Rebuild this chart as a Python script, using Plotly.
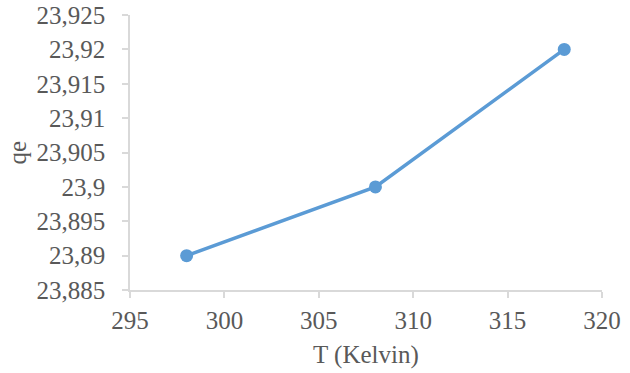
import plotly.graph_objects as go

temperature_k = [298, 308, 318]
qe_values = [23.89, 23.90, 23.92]

x_ticks = [295, 300, 305, 310, 315, 320]
y_ticks = [23.885, 23.89, 23.895, 23.90, 23.905, 23.91, 23.915, 23.92, 23.925]
y_tick_labels = ["23,885", "23,89", "23,895", "23,9", "23,905", "23,91", "23,915", "23,92", "23,925"]

font_family = "Liberation Serif, Times New Roman, serif"
blue = "#5B9BD5"
axis_col = "#D9D9D9"
text_col = "#595959"

fig = go.Figure()
fig.add_trace(go.Scatter(
    x=temperature_k, y=qe_values, mode="lines+markers",
    line=dict(color=blue, width=3.5),
    marker=dict(color=blue, size=13),
    showlegend=False,
))

fig.update_layout(
    width=630, height=373,
    margin=dict(l=130, r=28, t=15, b=83, autoexpand=False),
    paper_bgcolor="white", plot_bgcolor="white",
    font=dict(family=font_family, color=text_col, size=25),
    xaxis=dict(
        range=[295, 320], tickvals=x_ticks, ticktext=[str(v) for v in x_ticks],
        showgrid=False, zeroline=False, automargin=False,
        showline=True, linecolor=axis_col, linewidth=1.5,
        ticks="outside", ticklen=6, tickcolor=axis_col, tickwidth=1.5,
        tickfont=dict(size=25, color=text_col), ticklabelstandoff=1,
    ),
    yaxis=dict(
        range=[23.885, 23.925], tickvals=y_ticks, ticktext=y_tick_labels,
        showgrid=False, zeroline=False, automargin=False,
        showline=True, linecolor=axis_col, linewidth=1.5,
        ticks="outside", ticklen=6, tickcolor=axis_col, tickwidth=1.5,
        tickfont=dict(size=25, color=text_col), ticklabelstandoff=12,
    ),
    annotations=[
        dict(text="T (Kelvin)", xref="paper", yref="paper", x=0.5, y=0,
             yshift=-65, xanchor="center", yanchor="middle", showarrow=False,
             font=dict(size=25, color=text_col)),
        dict(text="qe", xref="paper", yref="paper", x=0, y=0.5,
             xshift=-113, xanchor="center", yanchor="middle", showarrow=False,
             textangle=-90, font=dict(size=25, color=text_col)),
    ],
)

fig.write_html("out.html")
